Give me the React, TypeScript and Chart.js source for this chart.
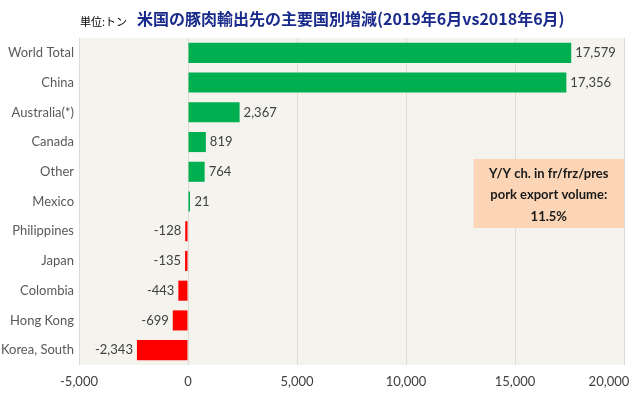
import React, { useEffect, useRef } from "react";
import { Chart, registerables } from "chart.js";

Chart.register(...registerables);

const titleText = "米国の豚肉輸出先の主要国別増減(2019年6月vs2018年6月)";
const unitText = "単位:トン";
const categories = [
  "World Total",
  "China",
  "Australia(*)",
  "Canada",
  "Other",
  "Mexico",
  "Philippines",
  "Japan",
  "Colombia",
  "Hong Kong",
  "Korea, South",
];
const values = [17579, 17356, 2367, 819, 764, 21, -128, -135, -443, -699, -2343];
const xTicks = [-5000, 0, 5000, 10000, 15000, 20000];
const noteLines = ["Y/Y ch. in fr/frz/pres", "pork export volume:", "11.5%"];

const fmt = (v: number) => v.toLocaleString("en-US");

export default function App() {
  const ref = useRef<HTMLCanvasElement | null>(null);

  useEffect(() => {
    if (!ref.current) return;

    const decor = {
      id: "decor",
      beforeDraw(chart: any) {
        const { ctx, chartArea } = chart;
        ctx.save();
        ctx.fillStyle = "#f4f3ee";
        ctx.fillRect(chartArea.left, chartArea.top, chartArea.right - chartArea.left, chartArea.bottom - chartArea.top);
        ctx.restore();
      },
      afterDatasetsDraw(chart: any) {
        const { ctx, chartArea } = chart;
        const meta = chart.getDatasetMeta(0);
        ctx.save();
        ctx.font = "13px Lato";
        ctx.fillStyle = "#404040";
        ctx.textBaseline = "middle";
        meta.data.forEach((bar: any, i: number) => {
          const v = values[i];
          if (v >= 0) {
            ctx.textAlign = "left";
            ctx.fillText(fmt(v), Math.max(bar.x, bar.base + 2) + 4, bar.y);
          } else {
            ctx.textAlign = "right";
            ctx.fillText(fmt(v), bar.x - 4, bar.y);
          }
        });
        // annotation box
        const xs = chart.scales.x;
        const bx = xs.getPixelForValue(13100);
        const bw = chartArea.right - bx;
        const by = chartArea.top + 121;
        const bh = 69;
        ctx.fillStyle = "#fbd5b5";
        ctx.fillRect(bx, by, bw, bh);
        ctx.fillStyle = "#1a1a1a";
        ctx.font = "bold 13px Lato";
        ctx.textAlign = "center";
        const cx = bx + bw / 2;
        ctx.fillText(noteLines[0], cx, by + 15);
        ctx.fillText(noteLines[1], cx, by + 36);
        ctx.fillText(noteLines[2], cx, by + 58);
        // titles
        ctx.textAlign = "left";
        ctx.fillStyle = "#1b2b8c";
        ctx.font = "bold 16px 'Noto Sans CJK JP'";
        ctx.fillText(titleText, 137, 19);
        ctx.fillStyle = "#000000";
        ctx.font = "11px 'Noto Sans CJK JP'";
        ctx.fillText(unitText, 80, 22);
        ctx.restore();
      },
    };

    const chart = new Chart(ref.current, {
      type: "bar",
      data: {
        labels: categories,
        datasets: [
          {
            data: values,
            backgroundColor: values.map((v) => (v >= 0 ? "#00b050" : "#ff0000")),
            barPercentage: 0.9,
            categoryPercentage: 0.75,
            minBarLength: 2,
          },
        ],
      },
      options: {
        indexAxis: "y",
        animation: false,
        responsive: false,
        maintainAspectRatio: false,
        layout: { padding: { top: 38, right: 6, left: 0, bottom: 0 } },
        plugins: {
          legend: { display: false },
          tooltip: { enabled: false },
          title: { display: false },
        },
        scales: {
          x: {
            min: -5000,
            max: 20000,
            afterBuildTicks(scale: any) {
              scale.ticks = xTicks.map((v) => ({ value: v }));
            },
            afterFit(scale: any) {
              scale.height = 31;
              scale.paddingLeft = 0;
              scale.paddingRight = 0;
            },
            grid: { color: "#dcdbd5", drawTicks: false },
            border: { display: false },
            ticks: {
              padding: 9,
              color: "#404040",
              font: { family: "Lato", size: 13 },
              maxRotation: 0,
              callback: (v: any) => {
                const n = Number(v);
                return n === 20000 ? fmt(n) + "\u2007\u2007\u2007\u2007" : fmt(n);
              },
            },
          },
          y: {
            afterFit(scale: any) {
              scale.width = 79;
            },
            grid: { display: false, drawTicks: false },
            border: { display: false },
            ticks: {
              padding: 5,
              color: "#595959",
              font: { family: "Lato", size: 13 },
            },
          },
        },
      },
      plugins: [decor],
    } as any);

    return () => chart.destroy();
  }, []);

  return (
    <div style={{ position: "fixed", left: 0, top: 0, width: 630, height: 396, background: "#ffffff" }}>
      <canvas ref={ref} width={630} height={396} style={{ width: 630, height: 396 }} />
    </div>
  );
}
